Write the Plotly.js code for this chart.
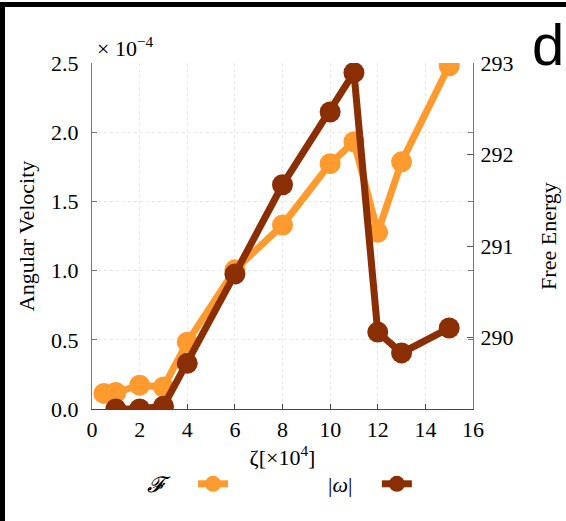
<!DOCTYPE html>
<html>
<head>
<meta charset="utf-8">
<script src="https://cdn.plot.ly/plotly-3.0.1.min.js"></script>
<style>
  html, body { margin: 0; padding: 0; background: #fff; }
  #wrap { position: relative; width: 566px; height: 521px; overflow: hidden; }
  #chart { position: absolute; left: 0; top: 0; width: 566px; height: 521px; }
  #frame { position: absolute; left: 0; top: 2px; width: 566px; height: 519px;
           border-top: 5px solid #000; border-left: 5px solid #000; box-sizing: border-box; pointer-events: none; }
</style>
</head>
<body>
<div id="wrap">
  <div id="chart"></div>
  <div id="frame"></div>
</div>
<script>
// Free energy F (right axis)
const fX = [0.5, 1, 2, 3, 4, 6, 8, 10, 11, 12, 13, 15];
const fY = [289.39, 289.40, 289.48, 289.46, 289.95, 290.74, 291.23, 291.90, 292.14, 291.15, 291.92, 292.97];
// Angular velocity |omega| (left axis, in units of 1e-4)
const wX = [1, 2, 3, 4, 6, 8, 10, 11, 12, 13, 15];
const wY = [0, 0, 0.02, 0.33, 0.975, 1.62, 2.146, 2.43, 0.556, 0.405, 0.585];
// Tick labels
const xTicks = [0, 2, 4, 6, 8, 10, 12, 14, 16];
const wTicks = [0, 0.5, 1.0, 1.5, 2.0, 2.5];
const wTickText = ["0.0", "0.5", "1.0", "1.5", "2.0", "2.5"];
const fTicks = [290, 291, 292, 293];

const ORANGE = "#FF9A2E";
const BROWN = "#8A2E04";
const SERIF = "Liberation Serif, Times New Roman, serif";
const FS = 22;
const NB = "\u00a0";

const traces = [
  {
    x: fX, y: fY, type: "scatter", mode: "lines+markers", name: " ",
    yaxis: "y", legend: "legend",
    line: { color: ORANGE, width: 7 },
    marker: { color: ORANGE, size: 21, symbol: "circle" }
  },
  {
    x: wX, y: wY, type: "scatter", mode: "lines+markers", name: " ",
    yaxis: "y2", legend: "legend2",
    line: { color: BROWN, width: 7 },
    marker: { color: BROWN, size: 21, symbol: "circle" }
  }
];

const layout = {
  width: 566, height: 521,
  margin: { l: 92, r: 93, t: 63, b: 112 },
  paper_bgcolor: "#fff", plot_bgcolor: "#fff",
  font: { family: SERIF, size: FS, color: "#000" },
  xaxis: {
    range: [0, 16], tickvals: xTicks, ticktext: xTicks.map(String),
    ticks: "inside", ticklen: 5, tickcolor: "#444",
    showline: true, linecolor: "#444", linewidth: 1.2,
    showgrid: true, gridcolor: "#e6e6e6", griddash: "dot", gridwidth: 1,
    zeroline: false, ticklabelstandoff: 0,
    title: { text: "ζ[×10<sup>4</sup>]", standoff: 5, font: { family: SERIF, size: FS } }
  },
  yaxis: {
    side: "right", range: [289.22, 293], tickvals: fTicks, ticktext: fTicks.map(String),
    ticks: "inside", ticklen: 6, tickcolor: "#555",
    showline: true, linecolor: "#777", linewidth: 1,
    showgrid: false, zeroline: false, ticklabelstandoff: 2,
    title: { text: "Free Energy", standoff: 28, font: { family: SERIF, size: FS } }
  },
  yaxis2: {
    overlaying: "y", side: "left", range: [0, 2.5],
    tickvals: wTicks, ticktext: wTickText,
    ticks: "inside", ticklen: 5, tickcolor: "#777", mirror: "ticks",
    showline: true, linecolor: "#777", linewidth: 1,
    showgrid: true, gridcolor: "#e6e6e6", griddash: "dot", gridwidth: 1,
    zeroline: false, ticklabelstandoff: 8,
    title: { text: "Angular Velocity", standoff: 10, font: { family: SERIF, size: FS } }
  },
  showlegend: true,
  legend: {
    x: (145 - 92) / 381, y: (409 - 484) / 346, xanchor: "left", yanchor: "middle",
    orientation: "h", bgcolor: "rgba(0,0,0,0)",
    title: { text: "<i>𝓕</i>" + NB + NB + NB + NB, side: "left", font: { family: SERIF, size: FS } },
    font: { family: SERIF, size: FS }
  },
  legend2: {
    x: (326 - 92) / 381, y: (409 - 484) / 346, xanchor: "left", yanchor: "middle",
    orientation: "h", bgcolor: "rgba(0,0,0,0)",
    title: { text: "|<i>ω</i>|" + NB + NB + NB, side: "left", font: { family: SERIF, size: FS } },
    font: { family: SERIF, size: FS }
  },
  annotations: [
    { xref: "paper", yref: "paper", x: (95 - 92) / 381, y: 1 + (63 - 47) / 346,
      xanchor: "left", yanchor: "middle", showarrow: false,
      text: "× 10<sup>−4</sup>", font: { family: SERIF, size: FS } },
    { xref: "paper", yref: "paper", x: (548 - 92) / 381, y: 1 + (63 - 44) / 346,
      xanchor: "center", yanchor: "middle", showarrow: false,
      text: "d", font: { family: "Liberation Sans, Arial, sans-serif", size: 58, color: "#000" } }
  ]
};

Plotly.newPlot("chart", traces, layout, { displayModeBar: false, staticPlot: true });
</script>
</body>
</html>
